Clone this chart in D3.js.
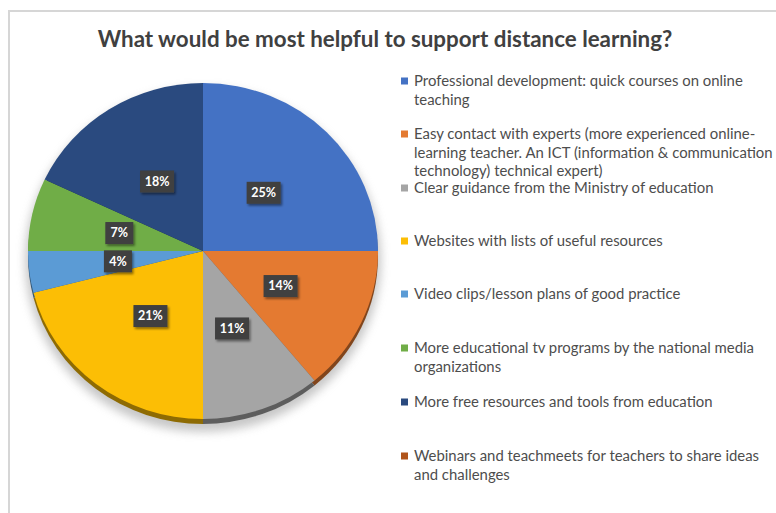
<!DOCTYPE html>
<html>
<head>
<meta charset="utf-8">
<script src="https://cdn.jsdelivr.net/npm/d3@7/dist/d3.min.js"></script>
<style>
  html, body { margin: 0; padding: 0; background: #fff; }
  svg { display: block; }
</style>
</head>
<body>
<svg id="chart" width="776" height="513"></svg>
<script>
// Survey answers, in drawing order (clockwise from 12 o'clock)
const categories = [
  ["Professional development: quick courses on online", "teaching"],
  ["Easy contact with experts (more experienced online-", "learning teacher. An ICT (information & communication", "technology) technical expert)"],
  ["Clear guidance from the Ministry of education"],
  ["Websites with lists of useful resources"],
  ["Video clips/lesson plans of good practice"],
  ["More educational tv programs by the national media", "organizations"],
  ["More free resources and tools from education"],
  ["Webinars and teachmeets for teachers to share ideas", "and challenges"]
];
const shares = [25, 14, 11, 21, 4, 7, 18, 0];
const colors = ["#4472C4", "#E47A31", "#A5A5A5", "#FCBE05", "#5B9BD5", "#70AD47", "#2A4A7F", "#B0541A"];
const title = "What would be most helpful to support distance learning?";

const svg = d3.select("#chart");
const W = 776, H = 513;

// frame of the chart area
svg.append("path")
  .attr("d", `M9,${H} L9,11 L${W},11`)
  .attr("fill", "none")
  .attr("stroke", "#d6d6d6")
  .attr("stroke-width", 2);

// title, fitted to its width
const titleText = svg.append("text")
  .attr("x", 385).attr("y", 47)
  .attr("text-anchor", "middle")
  .attr("font-family", "Lato, 'Open Sans', sans-serif")
  .attr("font-weight", "bold")
  .attr("font-size", 19)
  .attr("fill", "#404040")
  .text(title);
{
  const w = titleText.node().getComputedTextLength();
  titleText.attr("font-size", 19 * 575 / w);
}

const defs = svg.append("defs");
const shadow = defs.append("filter").attr("id", "pieShadow")
  .attr("x", "-20%").attr("y", "-20%").attr("width", "140%").attr("height", "140%");
shadow.append("feGaussianBlur").attr("stdDeviation", 5);

const boxShadow = defs.append("filter").attr("id", "boxShadow")
  .attr("x", "-30%").attr("y", "-30%").attr("width", "160%").attr("height", "160%");
boxShadow.append("feDropShadow").attr("dx", 1.5).attr("dy", 2).attr("stdDeviation", 1.2)
  .attr("flood-color", "#000").attr("flood-opacity", 0.45);

// pie geometry
const cx = 203, cy = 251, rx = 175, ry = 168;
const sy = ry / rx;

const pie = d3.pie().sort(null).value(d => d)(shares);
const arc = d3.arc().innerRadius(0).outerRadius(rx);
const labelArc = d3.arc().innerRadius(0).outerRadius(rx * 0.98);

// soft shadow under the pie
svg.append("ellipse")
  .attr("cx", cx).attr("cy", cy + 9)
  .attr("rx", rx + 3).attr("ry", ry + 4)
  .attr("fill", "#9a9a9a")
  .attr("opacity", 0.55)
  .attr("filter", "url(#pieShadow)");

// darker rim giving the pie a little depth at the bottom
const rim = svg.append("g").attr("transform", `translate(${cx},${cy + 5}) scale(1,${sy})`);
rim.selectAll("path").data(pie).join("path")
  .attr("d", arc)
  .attr("fill", (d, i) => d3.color(colors[i]).darker(1.6));

const slices = svg.append("g").attr("transform", `translate(${cx},${cy}) scale(1,${sy})`);
slices.selectAll("path").data(pie).join("path")
  .attr("d", arc)
  .attr("fill", (d, i) => colors[i]);

// value labels in dark boxes
const labels = svg.append("g")
  .attr("font-family", "Lato, 'Open Sans', sans-serif")
  .attr("font-weight", "bold")
  .attr("font-size", 12.5);
pie.filter(d => d.data > 0).forEach(d => {
  const [x, y] = labelArc.centroid(d);
  const px = cx + x, py = cy + y * sy;
  const g = labels.append("g").attr("transform", `translate(${px},${py})`);
  const txt = `${d.data}%`;
  const bw = txt.length > 2 ? 34 : 28;
  g.append("rect")
    .attr("x", -bw / 2).attr("y", -11)
    .attr("width", bw).attr("height", 22)
    .attr("fill", "#404040")
    .attr("filter", "url(#boxShadow)");
  g.append("text")
    .attr("text-anchor", "middle")
    .attr("dy", "0.35em")
    .attr("fill", "#fff")
    .text(txt);
});

// legend
const legendTop = [81, 134, 188, 241, 294, 348, 402, 456];
const lineH = 18.4;
const legend = svg.append("g")
  .attr("font-family", "Lato, 'Open Sans', sans-serif")
  .attr("font-size", 13)
  .attr("fill", "#4d4d4d");
categories.forEach((lines, i) => {
  legend.append("rect")
    .attr("x", 401).attr("y", legendTop[i] - 3.5)
    .attr("width", 7).attr("height", 7)
    .attr("fill", colors[i]);
  const t = legend.append("text");
  lines.forEach((ln, j) => {
    t.append("tspan")
      .attr("x", 414)
      .attr("y", legendTop[i] + j * lineH)
      .attr("dy", "0.35em")
      .text(ln);
  });
});
// fit legend font size to the measured line width
{
  const first = legend.select("tspan").node().getComputedTextLength();
  legend.attr("font-size", 13 * 329 / first);
}
</script>
</body>
</html>
